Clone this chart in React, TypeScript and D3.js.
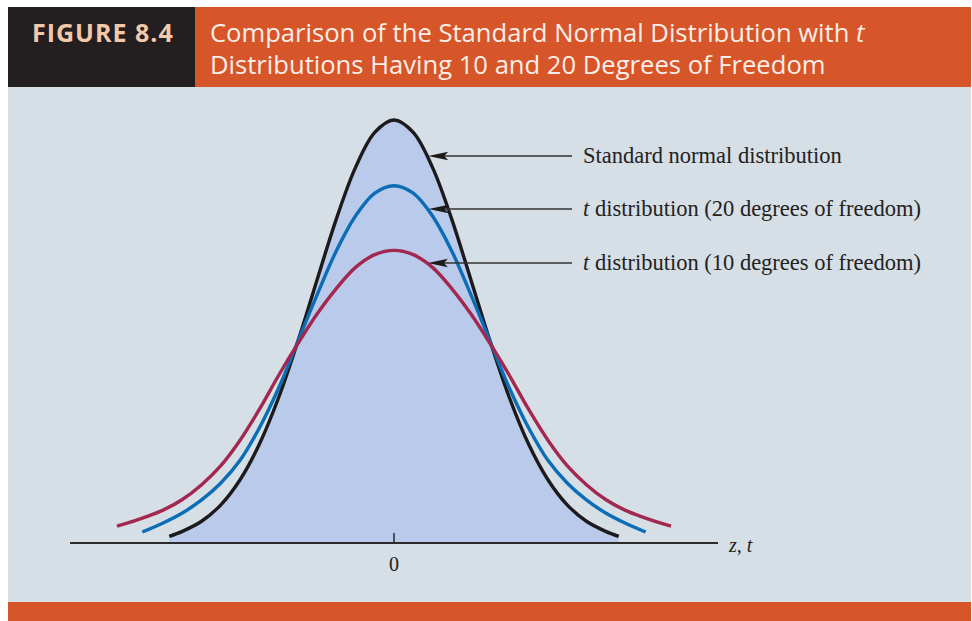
import React from "react";
import * as d3 from "d3";

// ---- data ----
const zNormal = [-2.92, -2.75, -2.5, -2.25, -2, -1.75, -1.5, -1.25, -1, -0.75, -0.5, -0.25, 0, 0.25, 0.5, 0.75, 1, 1.25, 1.5, 1.75, 2, 2.25, 2.5, 2.75, 2.92];
const normalDensity = [0.0062, 0.011, 0.0205, 0.036, 0.0597, 0.0931, 0.137, 0.19, 0.2481, 0.3055, 0.3543, 0.3873, 0.399, 0.3873, 0.3543, 0.3055, 0.2481, 0.19, 0.137, 0.0931, 0.0597, 0.036, 0.0205, 0.011, 0.0062];

const zT20 = [-3.27, -3, -2.75, -2.5, -2.25, -2, -1.75, -1.5, -1.25, -1, -0.75, -0.5, -0.25, 0, 0.25, 0.5, 0.75, 1, 1.25, 1.5, 1.75, 2, 2.25, 2.5, 2.75, 3, 3.27];
const t20Density = [0.0104, 0.0189, 0.0283, 0.0406, 0.0566, 0.078, 0.1085, 0.146, 0.19, 0.234, 0.2755, 0.3085, 0.33, 0.337, 0.33, 0.3085, 0.2755, 0.234, 0.19, 0.146, 0.1085, 0.078, 0.0566, 0.0406, 0.0283, 0.0189, 0.0104];

const zT10 = [-3.6, -3.5, -3.25, -3, -2.75, -2.5, -2.25, -2, -1.75, -1.5, -1.25, -1, -0.75, -0.5, -0.25, 0, 0.25, 0.5, 0.75, 1, 1.25, 1.5, 1.75, 2, 2.25, 2.5, 2.75, 3, 3.25, 3.5, 3.6];
const t10Density = [0.016, 0.018, 0.024, 0.031, 0.041, 0.055, 0.073, 0.097, 0.126, 0.158, 0.188, 0.216, 0.24, 0.26, 0.272, 0.276, 0.272, 0.26, 0.24, 0.216, 0.188, 0.158, 0.126, 0.097, 0.073, 0.055, 0.041, 0.031, 0.024, 0.018, 0.016];

const tickValues = [0];
const tickLabels = ["0"];
const axisLabel = "z, t";
const figureLabel = "FIGURE 8.4";
const titleLine1 = "Comparison of the Standard Normal Distribution with ";
const titleLine1Italic = "t";
const titleLine2 = "Distributions Having 10 and 20 Degrees of Freedom";
const seriesLabels = ["Standard normal distribution", "distribution (20 degrees of freedom)", "distribution (10 degrees of freedom)"];
const seriesItalicPrefix = ["", "t", "t"];

type Pt = { z: number; d: number };
const zip = (zs: number[], ds: number[]): Pt[] => zs.map((z, i) => ({ z, d: ds[i] }));

export default function App() {
  const W = 972, H = 621;
  const x = d3.scaleLinear().domain([-4.21, 4.21]).range([70, 718]);
  const y = d3.scaleLinear().domain([0, 0.399]).range([543, 120]);

  const normal = zip(zNormal, normalDensity);
  const t20 = zip(zT20, t20Density);
  const t10 = zip(zT10, t10Density);

  const line = d3.line<Pt>().x(p => x(p.z)).y(p => y(p.d)).curve(d3.curveCatmullRom.alpha(0.5));
  const area = d3.area<Pt>().x(p => x(p.z)).y0(y(0)).y1(p => y(p.d)).curve(d3.curveCatmullRom.alpha(0.5));

  const rightX = (pts: Pt[], py: number) => {
    const target = y.invert(py);
    const right = pts.filter(p => p.z >= 0);
    for (let i = 0; i < right.length - 1; i++) {
      const a = right[i], b = right[i + 1];
      if (a.d >= target && b.d <= target) {
        const t = (a.d - target) / (a.d - b.d);
        return x(a.z + t * (b.z - a.z));
      }
    }
    return x(0);
  };

  const series = [
    { pts: normal, color: "#1c1a1b" },
    { pts: t20, color: "#0b6db6" },
    { pts: t10, color: "#a2284f" },
  ];
  const arrowY = [156, 209, 263];
  const lineEndX = 572;
  const textX = 583;

  const serif = "'Liberation Serif', 'Times New Roman', serif";
  const sans = "'Open Sans', 'Noto Sans', sans-serif";

  return (
    <svg width={W} height={H} style={{ position: "absolute", left: 0, top: 0 }} xmlns="http://www.w3.org/2000/svg">
      <rect x={0} y={0} width={W} height={H} fill="#ffffff" />
      <rect x={8} y={87} width={963} height={515} fill="#d6dee6" />
      <rect x={8} y={602} width={963} height={19} fill="#d65529" />
      <rect x={8} y={7} width={187} height={80} fill="#231f20" />
      <rect x={195} y={7} width={776} height={80} fill="#d65529" />
      <text x={32} y={42} fill="#f3c9aa" fontFamily={sans} fontWeight={700} fontSize={25} letterSpacing={1}>{figureLabel}</text>
      <text x={210} y={42} fill="#fbeee8" fontFamily={sans} fontSize={25.6}>
        {titleLine1}<tspan fontStyle="italic">{titleLine1Italic}</tspan>
      </text>
      <text x={210} y={74} fill="#fbeee8" fontFamily={sans} fontSize={25.6}>{titleLine2}</text>

      <path d={area(normal) || ""} fill="#bacaea" />

      <line x1={x.range()[0]} x2={x.range()[1]} y1={y(0)} y2={y(0)} stroke="#2a2a2a" strokeWidth={2} />
      {tickValues.map((v, i) => (
        <g key={i}>
          <line x1={x(v)} x2={x(v)} y1={y(0)} y2={y(0) - 10} stroke="#2a2a2a" strokeWidth={1.5} />
          <text x={x(v)} y={571} textAnchor="middle" fontFamily={serif} fontSize={20} fill="#222">{tickLabels[i]}</text>
        </g>
      ))}
      <text x={729} y={552} fontFamily={serif} fontStyle="italic" fontSize={20} fill="#222">{axisLabel}</text>

      {series.map((s, i) => (
        <path key={i} d={line(s.pts) || ""} fill="none" stroke={s.color} strokeWidth={3.4} />
      ))}

      {series.map((s, i) => {
        const yy = arrowY[i];
        const tip = rightX(s.pts, yy) + 2;
        return (
          <g key={i}>
            <line x1={tip + 14} x2={lineEndX} y1={yy} y2={yy} stroke="#333" strokeWidth={1.6} />
            <path d={`M${tip},${yy} L${tip + 20},${yy - 4.2} L${tip + 16},${yy} L${tip + 20},${yy + 4.2} Z`} fill="#1c1a1b" />
            <text x={textX} y={yy + 7} fontFamily={serif} fontSize={22.5} fill="#222">
              {seriesItalicPrefix[i] ? <tspan fontStyle="italic">{seriesItalicPrefix[i] + " "}</tspan> : null}
              {seriesLabels[i]}
            </text>
          </g>
        );
      })}
    </svg>
  );
}
